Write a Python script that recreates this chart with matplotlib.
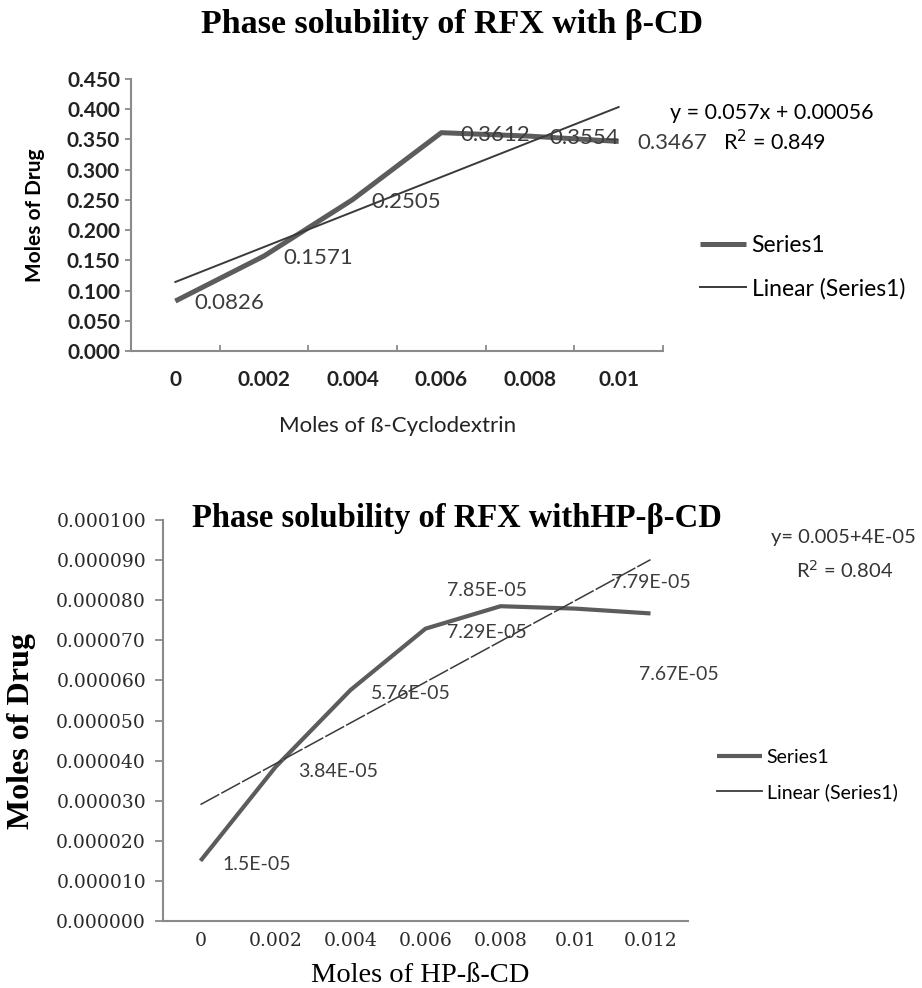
import matplotlib.pyplot as plt
import numpy as np

# 数据：β-CD 相溶解度
cd_moles = ['0', '0.002', '0.004', '0.006', '0.008', '0.01']
drug_cd = [0.0826, 0.1571, 0.2505, 0.3612, 0.3554, 0.3467]
cd_eq = 'y = 0.057x + 0.00056'
cd_r2 = 'R$^2$ = 0.849'

# 数据：HP-β-CD 相溶解度
hp_moles = ['0', '0.002', '0.004', '0.006', '0.008', '0.01', '0.012']
drug_hp = [1.5e-05, 3.84e-05, 5.76e-05, 7.29e-05, 7.85e-05, 7.79e-05, 7.67e-05]
hp_labels = ['1.5E-05', '3.84E-05', '5.76E-05', '7.29E-05', '7.85E-05', '7.79E-05', '7.67E-05']
hp_eq = 'y= 0.005+4E-05'
hp_r2 = 'R$^2$ = 0.804'

W, H = 922, 988
fig = plt.figure(figsize=(W / 100, H / 100), dpi=100)


def px_axes(left, top, right, bottom):
    return fig.add_axes([left / W, 1 - bottom / H, (right - left) / W, (bottom - top) / H])


def px(v):
    # 像素 -> 点
    return v * 72 / 100


axis_gray = '#8a8a8a'
line_gray = '#5c5c5c'
label_gray = '#3c3c3c'
sans = 'Lato'
serif = 'Liberation Serif'

# ---------------- 上图 ----------------
ax1 = px_axes(131, 79, 663, 351)
x1 = np.arange(len(cd_moles))
ax1.plot(x1, drug_cd, color=line_gray, lw=3.6, solid_capstyle='butt', label='Series1')
k1, b1 = np.polyfit(x1 + 1, drug_cd, 1)
ax1.plot(x1, k1 * (x1 + 1) + b1, color='#3a3a3a', lw=1.4, label='Linear (Series1)')

for xi, v in zip(x1, drug_cd):
    ax1.annotate('{:.4f}'.format(v), (xi, v), xytext=(px(19), px(-2)), textcoords='offset points',
                 ha='left', va='center', fontsize=16, family=sans, color=label_gray)

ax1.set_xlim(-0.5, len(cd_moles) - 0.5)
ax1.set_ylim(0, 0.45)
ax1.set_yticks(np.arange(0, 0.451, 0.05))
ax1.set_yticklabels(['{:.3f}'.format(t) for t in np.arange(0, 0.451, 0.05)],
                    fontsize=15, family=sans, fontweight='bold', color='#222222')
ax1.set_xticks(x1)
ax1.set_xticklabels(cd_moles, fontsize=15, family=sans, fontweight='bold', color='#222222')
ax1.set_xticks(np.arange(0.5, len(cd_moles)), minor=True)
ax1.tick_params(axis='x', which='major', length=0, pad=px(19))
ax1.tick_params(axis='x', which='minor', direction='in', length=px(6), width=1.3, color=axis_gray)
ax1.tick_params(axis='y', length=px(6), width=1.3, color=axis_gray, pad=px(5))
for s in ['top', 'right']:
    ax1.spines[s].set_visible(False)
for s in ['left', 'bottom']:
    ax1.spines[s].set_color(axis_gray)
    ax1.spines[s].set_linewidth(1.5)

fig.text(452 / W, 1 - 25 / H, 'Phase solubility of RFX with β-CD', ha='center', va='center',
         fontsize=24.5, family=serif, fontweight='bold')
fig.text(35 / W, 1 - 215 / H, 'Moles of Drug', rotation=90, ha='center', va='center',
         fontsize=15, family=sans, fontweight='bold')
fig.text(398 / W, 1 - 426 / H, 'Moles of ß-Cyclodextrin', ha='center', va='center',
         fontsize=16, family=sans, color='#222222')
fig.text(670 / W, 1 - 113 / H, cd_eq, ha='left', va='center', fontsize=15.5, family=sans)
fig.text(723 / W, 1 - 142 / H, cd_r2, ha='left', va='center', fontsize=15.5, family=sans)

ax1.legend(loc='center left', bbox_to_anchor=(700 / W, 1 - 267 / H), bbox_transform=fig.transFigure,
           frameon=False, prop={'family': sans, 'size': 16.5}, handlelength=2.0,
           handletextpad=0.25, labelspacing=0.95, borderpad=0, borderaxespad=0)

# ---------------- 下图 ----------------
ax2 = px_axes(163, 520, 688, 921)
x2 = np.arange(len(hp_moles))
ax2.plot(x2, drug_hp, color=line_gray, lw=3.0, solid_capstyle='butt', label='Series1')
k2, b2 = np.polyfit(x2 + 1, drug_hp, 1)
ax2.plot(x2, k2 * (x2 + 1) + b2, color='#3a3a3a', lw=1.1, dashes=(14, 1.5), label='_trend')
# 图例里趋势线用实线
ax2.plot([], [], color='#3a3a3a', lw=1.3, label='Linear (Series1)')

# 数据标签位置（像素偏移）
hp_offsets = [(22, -4, 'left'), (23, -4, 'left'), (20, -3, 'left'), (21, -4, 'left'),
              (-13, 16, 'center'), (35, 26, 'left'), (-11, -61, 'left')]
for xi, v, lab, (dx, dy, ha) in zip(x2, drug_hp, hp_labels, hp_offsets):
    ax2.annotate(lab, (xi, v), xytext=(px(dx), px(dy)), textcoords='offset points',
                 ha=ha, va='center', fontsize=14, family=sans, color=label_gray)

ax2.set_xlim(-0.5, len(hp_moles) - 0.5)
ax2.set_ylim(0, 0.0001)
yt2 = np.arange(0, 0.00010001, 0.00001)
ax2.set_yticks(yt2)
ax2.set_yticklabels(['{:.6f}'.format(t) for t in yt2], fontsize=13.5, family='DejaVu Serif', color='#2a2a2a')
ax2.set_xticks(x2)
ax2.set_xticklabels(hp_moles, fontsize=13.5, family='DejaVu Serif', color='#2a2a2a')
ax2.tick_params(axis='x', length=0, pad=px(11))
ax2.tick_params(axis='y', length=px(8), width=1.3, color=axis_gray, pad=px(9))
for s in ['top', 'right']:
    ax2.spines[s].set_visible(False)
for s in ['left', 'bottom']:
    ax2.spines[s].set_color(axis_gray)
    ax2.spines[s].set_linewidth(1.5)

fig.text(457 / W, 1 - 518 / H, 'Phase solubility of RFX withHP-β-CD', ha='center', va='center',
         fontsize=23.5, family=serif, fontweight='bold')
fig.text(22 / W, 1 - 731 / H, 'Moles of Drug', rotation=90, ha='center', va='center',
         fontsize=23, family=serif, fontweight='bold')
fig.text(420 / W, 1 - 975 / H, 'Moles of HP-ß-CD', ha='center', va='center',
         fontsize=20.5, family=serif)
fig.text(843 / W, 1 - 538 / H, hp_eq, ha='center', va='center', fontsize=14.5, family=sans, color='#333333')
fig.text(845 / W, 1 - 570 / H, hp_r2, ha='center', va='center', fontsize=14.5, family=sans, color='#333333')

ax2.legend(loc='center left', bbox_to_anchor=(717 / W, 1 - 775 / H), bbox_transform=fig.transFigure,
           frameon=False, prop={'family': sans, 'size': 14}, handlelength=2.3,
           handletextpad=0.25, labelspacing=0.85, borderpad=0, borderaxespad=0)

fig.savefig('out.png', dpi=100)
